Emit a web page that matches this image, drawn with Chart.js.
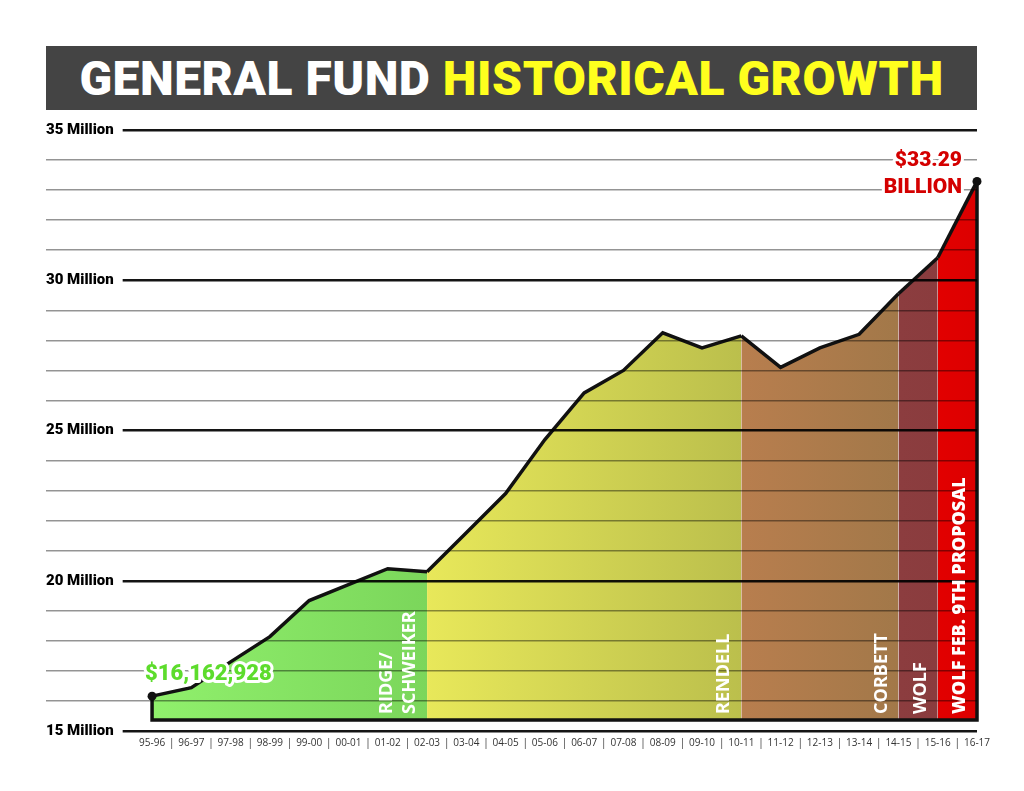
<!DOCTYPE html>
<html>
<head>
<meta charset="utf-8">
<script src="https://cdn.jsdelivr.net/npm/chart.js@4.4.1/dist/chart.umd.min.js"></script>
<style>
  html, body { margin: 0; padding: 0; background: #fff; }
  #wrap { position: relative; width: 1024px; height: 791px; }
  #chart { position: absolute; left: 0; top: 0; }
  #banner {
    position: absolute; left: 46px; top: 46px; width: 931px; height: 64px;
    background: #444; color: #fff; text-align: center;
    font-family: Roboto, Lato, sans-serif; font-weight: 900;
    font-size: 48px; line-height: 66px; letter-spacing: 0.5px;
  }
  #banner span { color: #ffff1e; }
</style>
</head>
<body>
<div id="wrap">
  <canvas id="chart" width="1024" height="791"></canvas>
  <div id="banner">GENERAL FUND <span>HISTORICAL GROWTH</span></div>
</div>
<script>
// fiscal years and general fund size (millions, as labelled on the chart)
var years = ['95-96', '96-97', '97-98', '98-99', '99-00', '00-01', '01-02', '02-03',
             '03-04', '04-05', '05-06', '06-07', '07-08', '08-09', '09-10', '10-11',
             '11-12', '12-13', '13-14', '14-15', '15-16', '16-17'];
var fund = [16.16, 16.44, 17.3, 18.14, 19.34, 19.87, 20.4, 20.3,
            21.6, 22.9, 24.7, 26.25, 27.0, 28.25, 27.75, 28.15,
            27.1, 27.75, 28.2, 29.55, 30.75, 33.29];

// administrations: index where each one starts / ends
var eraNames = [['RIDGE/', 'SCHWEIKER'], ['RENDELL'], ['CORBETT'], ['WOLF'], ['WOLF FEB. 9TH PROPOSAL']];
var eraStart = [0, 7, 15, 19, 20];
var eraEnd = [7, 15, 19, 20, 21];
var eraColors = [['#90f06c', '#7bd65b'], ['#e8e85a', '#bbbf4c'], ['#b87e4e', '#a27849'],
                 ['#8c3d3f', '#8a3c3e'], ['#e20000', '#dc0000']];

var fillBase = 15.37;
var startLabel = '$16,162,928';
var endLabel = ['$33.29', 'BILLION'];

function eraOf(i) {
    for (var k = 0; k < eraEnd.length; k++) {
        if (i < eraEnd[k]) return k;
    }
    return eraEnd.length - 1;
}

var gradCache = {};
function eraFill(ctx) {
    var k = eraOf(ctx.p0DataIndex);
    if (!gradCache[k]) {
        var ch = ctx.chart || Chart.getChart('chart');
        var x = ch.scales.x;
        var g = ch.ctx.createLinearGradient(x.getPixelForValue(eraStart[k]), 0, x.getPixelForValue(eraEnd[k]), 0);
        g.addColorStop(0, eraColors[k][0]);
        g.addColorStop(1, eraColors[k][1]);
        gradCache[k] = g;
    }
    return gradCache[k];
}

var decor = {
    id: 'decor',
    afterDatasetsDraw: function(chart) {
        var pts = chart.getDatasetMeta(0).data;
        var first = pts[0], last = pts[pts.length - 1];
        var base = chart.scales.y.getPixelForValue(fillBase);
        var c = chart.ctx;
        c.save();
        c.strokeStyle = '#111';
        c.lineWidth = 3.5;
        c.lineJoin = 'miter';
        c.beginPath();
        c.moveTo(first.x, first.y);
        c.lineTo(first.x, base);
        c.lineTo(last.x, base);
        c.lineTo(last.x, last.y);
        c.stroke();
        c.restore();
    },
    afterDraw: function(chart) {
        var c = chart.ctx;
        var xs = chart.scales.x;
        var base = chart.scales.y.getPixelForValue(fillBase);
        var pts = chart.getDatasetMeta(0).data;
        var first = pts[0], last = pts[pts.length - 1];

        // administration names, written upward inside each band
        c.save();
        c.fillStyle = '#fff';
        c.textBaseline = 'middle';
        c.textAlign = 'left';
        eraNames.forEach(function(lines, k) {
            var right = xs.getPixelForValue(eraEnd[k]);
            var heavy = k === eraNames.length - 1;
            c.font = (heavy ? '800 ' : '700 ') + '18px "Open Sans", sans-serif';
            lines.forEach(function(line, j) {
                var x = right - 17 - (lines.length - 1 - j) * 23;
                c.save();
                c.translate(x, base - 6);
                c.rotate(-Math.PI / 2);
                c.fillText(line, 0, 0);
                c.restore();
            });
        });
        c.restore();

        // start / end callouts
        c.save();
        c.lineJoin = 'round';
        c.textBaseline = 'middle';
        c.font = '900 22px Roboto, Lato, sans-serif';
        c.textAlign = 'left';
        c.strokeStyle = '#fff';
        c.lineWidth = 6;
        c.strokeText(startLabel, first.x - 7, first.y - 22);
        c.fillStyle = '#5ddc2c';
        c.fillText(startLabel, first.x - 7, first.y - 22);

        c.font = '900 21px Roboto, Lato, sans-serif';
        c.textAlign = 'right';
        c.fillStyle = '#d40000';
        [endLabel[0], endLabel[1]].forEach(function(t, j) {
            var y = last.y - 21 + j * 27;
            c.strokeText(t, last.x - 15, y);
            c.fillText(t, last.x - 15, y);
        });
        c.restore();
    }
};

function isMajor(v) { return Math.abs(v % 5) < 1e-6; }

new Chart(document.getElementById('chart'), {
    type: 'line',
    data: {
        datasets: [{
            data: fund.map(function(v, i) { return { x: i, y: v }; }),
            borderColor: '#111',
            borderWidth: 3.5,
            tension: 0,
            clip: false,
            fill: { value: fillBase },
            backgroundColor: '#7bd65b',
            segment: { backgroundColor: eraFill },
            pointRadius: function(ctx) { return (ctx.dataIndex === 0 || ctx.dataIndex === fund.length - 1) ? 4.5 : 0; },
            pointBackgroundColor: '#111',
            pointBorderWidth: 0
        }]
    },
    options: {
        responsive: false,
        animation: false,
        layout: { padding: { left: 46, right: 47, top: 130, bottom: 36 } },
        plugins: { legend: { display: false }, tooltip: { enabled: false } },
        scales: {
            x: {
                type: 'linear',
                min: -2.7,
                max: 21,
                grid: { display: false, drawTicks: false },
                border: { display: false },
                ticks: {
                    stepSize: 0.5,
                    autoSkip: false,
                    maxRotation: 0,
                    includeBounds: false,
                    maxTicksLimit: 200,
                    padding: 6,
                    color: '#333',
                    font: { family: '"Open Sans", sans-serif', size: 10 },
                    callback: function(v) {
                        if (v < 0 || v > years.length - 1) return '';
                        var r = Math.round(v * 2);
                        return r % 2 === 0 ? years[r / 2] : '|';
                    }
                }
            },
            y: {
                min: 15,
                max: 35,
                border: { display: false },
                grid: {
                    z: 1,
                    drawTicks: false,
                    color: function(ctx) { return isMajor(ctx.tick.value) ? 'rgba(0,0,0,0.92)' : 'rgba(0,0,0,0.42)'; },
                    lineWidth: function(ctx) { return isMajor(ctx.tick.value) ? 2.5 : 1.5; }
                },
                ticks: {
                    stepSize: 1,
                    mirror: true,
                    padding: 0,
                    z: 2,
                    color: '#000',
                    font: { family: 'Roboto, Lato, sans-serif', size: 15, weight: '900' },
                    showLabelBackdrop: function(ctx) { return isMajor(ctx.tick.value); },
                    backdropColor: '#fff',
                    backdropPadding: { top: 4, bottom: 4, left: 1, right: 9 },
                    callback: function(v) { return isMajor(v) ? v + ' Million' : ''; }
                }
            }
        }
    },
    plugins: [decor]
});
</script>
</body>
</html>
